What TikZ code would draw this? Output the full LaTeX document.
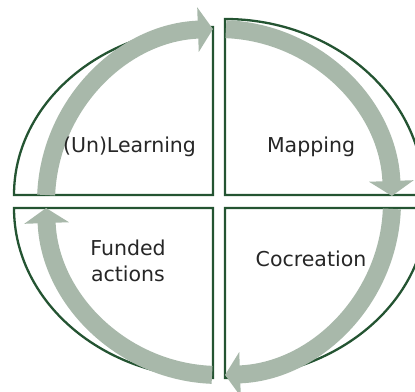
\documentclass[tikz,border=0pt]{standalone}
\usepackage{fontspec}
\setmainfont{DejaVu Sans}
\usetikzlibrary{arrows.meta}

\definecolor{quadline}{RGB}{36,84,50}
\definecolor{cyclegray}{RGB}{168,184,170}

\begin{document}
\begin{tikzpicture}[x=1pt, y=1pt,
    quad/.style={draw=quadline, line width=2.3pt, line join=miter},
    band/.style={draw=cyclegray, line width=18pt, -{Triangle[length=15pt, width=44pt]}},
    lbl/.style={font=\fontsize{20.5}{26}\selectfont, text=black!85, align=center}
]
\useasboundingbox (0,0) rectangle (415,391);
\coordinate (c) at (219,189);

% four quarter sectors
\draw[quad] (213,196) -- (14,196) arc[start angle=180, end angle=90, x radius=199, y radius=168] -- cycle;
\draw[quad] (225,196) -- (225,372) arc[start angle=90, end angle=0, x radius=199, y radius=176] -- cycle;
\draw[quad] (213,183) -- (213,13) arc[start angle=270, end angle=180, x radius=199, y radius=170] -- cycle;
\draw[quad] (225,183) -- (427,183) arc[start angle=0, end angle=-90, x radius=202, y radius=170] -- cycle;

% clockwise cycle arrows
\foreach \a in {180,90,0,-90}
    \draw[band] (c) ++(\a-2.3:173) arc[start angle=\a-2.3, end angle=\a-88, radius=173];

\node[lbl, anchor=base] (learn) at (129.5,238) {(Un)Learning};
\node[lbl, anchor=base] (map) at (311,238) {Mapping};
\node[lbl, anchor=base] (cocr) at (311,124) {Cocreation};
\node[lbl] (fund) at (128,130) {Funded\\actions};
\end{tikzpicture}
\end{document}
